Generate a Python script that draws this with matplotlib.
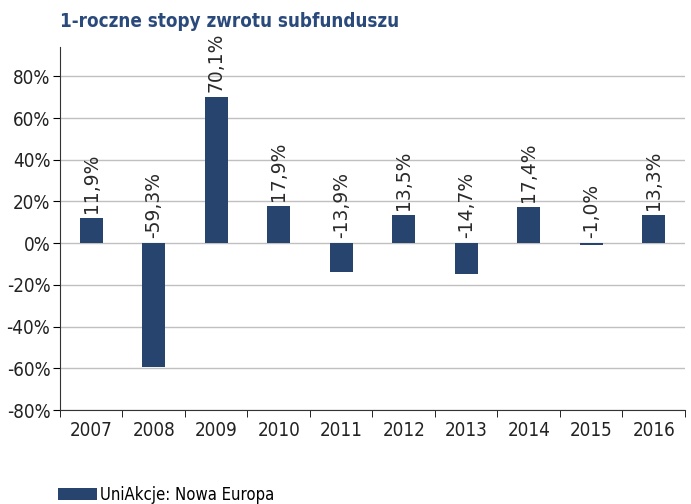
import matplotlib.pyplot as plt
from matplotlib.ticker import FuncFormatter, FixedLocator
import numpy as np

years = ['2007', '2008', '2009', '2010', '2011', '2012', '2013', '2014', '2015', '2016']
returns = [11.9, -59.3, 70.1, 17.9, -13.9, 13.5, -14.7, 17.4, -1.0, 13.3]
series_name = 'UniAkcje: Nowa Europa'
title = '1-roczne stopy zwrotu subfunduszu'

bar_color = '#27446f'
plt.rcParams['font.family'] = ['DejaVu Sans']
plt.rcParams['font.stretch'] = 'condensed'

fig = plt.figure(figsize=(6.91, 5.04), dpi=100)
ax = fig.add_axes([0.0868, 0.1865, 0.9045, 0.72])

x = np.arange(len(years))
ax.bar(x, returns, width=0.37, color=bar_color, zorder=3, label=series_name)

# value labels, rotated, above bar top (or above zero line for negatives)
for xi, v in zip(x, returns):
    base = max(v, 0)
    ax.text(xi, base + 2.5, f'{v:.1f}%'.replace('.', ','), rotation=90,
            ha='center', va='bottom', fontsize=13.5, color='#2a2a2a',
            fontstretch='normal')

ax.set_xlim(-0.5, len(years) - 0.5)
ax.set_ylim(-80, 94)
ax.set_yticks(np.arange(-80, 81, 20))
ax.yaxis.set_major_formatter(FuncFormatter(lambda v, p: f'{v:.0f}%'))
ax.grid(axis='y', color='#c0c0c0', linewidth=1, zorder=0)

ax.set_xticks(x)
ax.set_xticklabels(years)
ax.xaxis.set_minor_locator(FixedLocator(np.arange(-0.5, len(years), 1)))
ax.tick_params(axis='x', which='major', length=0, pad=8, labelsize=13.5)
ax.tick_params(axis='x', which='minor', length=5, direction='out')
ax.tick_params(axis='y', length=5, labelsize=13.5, pad=2, labelcolor='#222222')
ax.tick_params(axis='x', labelcolor='#222222')

for s in ['top', 'right']:
    ax.spines[s].set_visible(False)
ax.spines['left'].set_color('#333333')
ax.spines['bottom'].set_color('#333333')

fig.text(0.087, 0.958, title, fontsize=13.5, fontweight='bold', color='#2b4a7c',
         va='center', ha='left')

fig.legend(loc='lower left', bbox_to_anchor=(0.062, -0.03), frameon=False,
           fontsize=12, handlelength=2.35, handleheight=0.75, handletextpad=0.2)

fig.savefig('out.png', dpi=100)
